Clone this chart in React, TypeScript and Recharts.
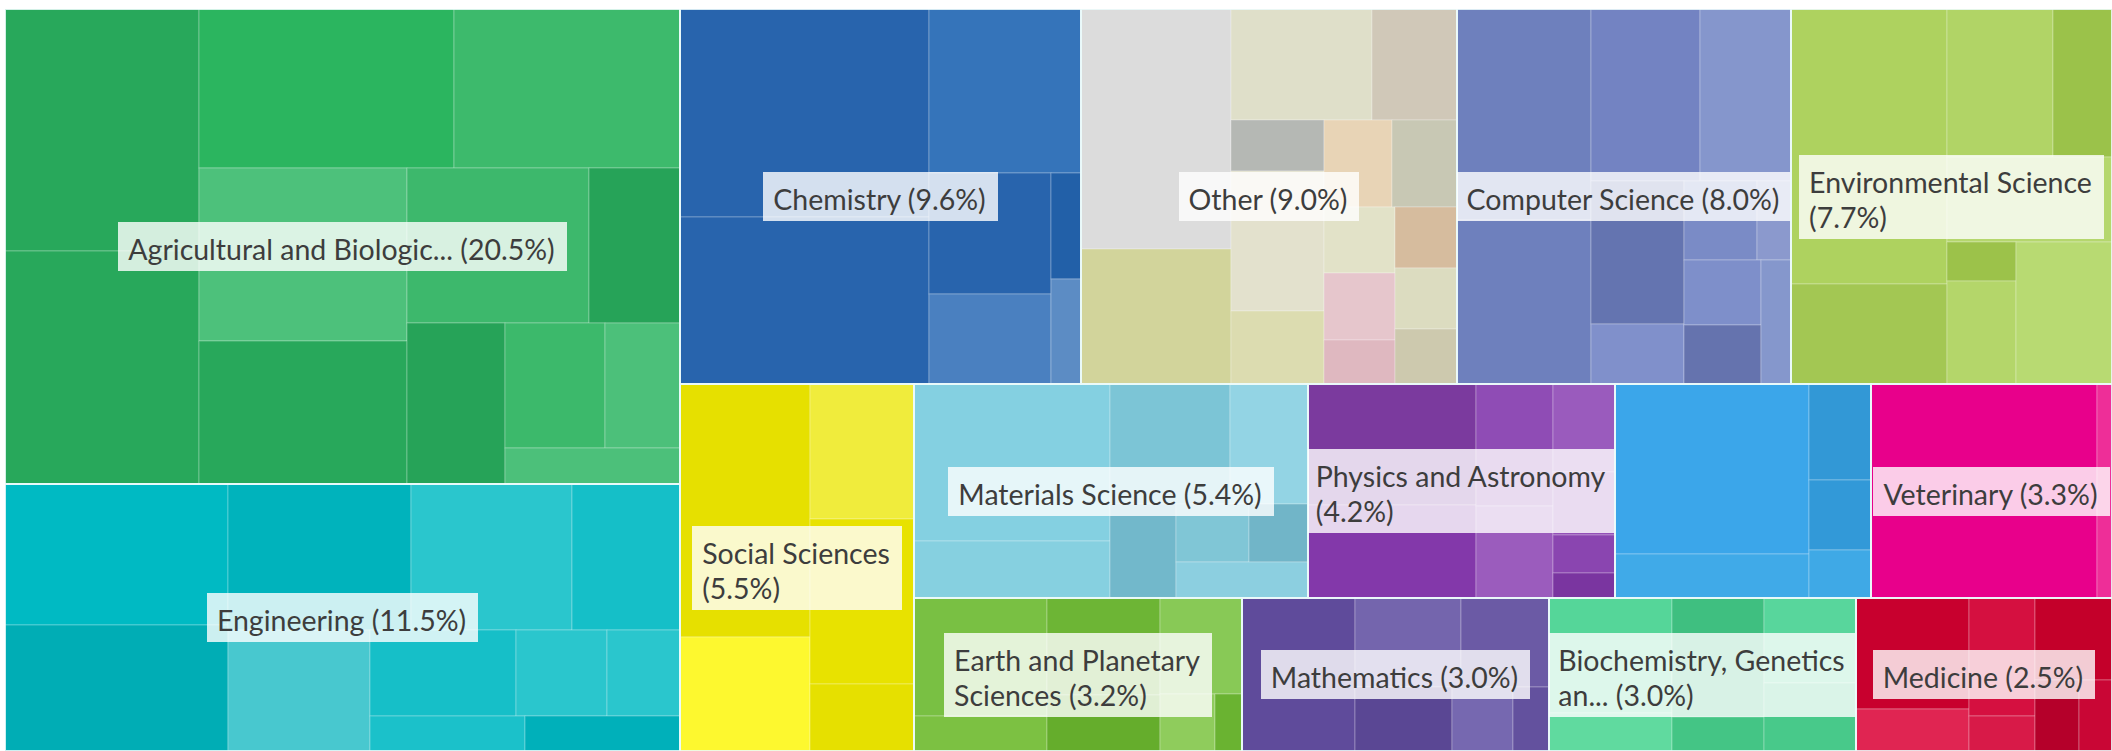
import React from "react";
import { Treemap } from "recharts";

// subject areas, share of publications (%)
const categories = [
  "Agricultural and Biological Sciences",
  "Engineering",
  "Chemistry",
  "Other",
  "Computer Science",
  "Environmental Science",
  "Social Sciences",
  "Materials Science",
  "Physics and Astronomy",
  "Immunology and Microbiology",
  "Veterinary",
  "Earth and Planetary Sciences",
  "Mathematics",
  "Biochemistry, Genetics and Molecular Biology",
  "Medicine",
];

const labelLines: string[][] = [
  ["Agricultural and Biologic... (20.5%)"],
  ["Engineering (11.5%)"],
  ["Chemistry (9.6%)"],
  ["Other (9.0%)"],
  ["Computer Science (8.0%)"],
  ["Environmental Science", "(7.7%)"],
  ["Social Sciences", "(5.5%)"],
  ["Materials Science (5.4%)"],
  ["Physics and Astronomy", "(4.2%)"],
  [],
  ["Veterinary (3.3%)"],
  ["Earth and Planetary", "Sciences (3.2%)"],
  ["Mathematics (3.0%)"],
  ["Biochemistry, Genetics", "an... (3.0%)"],
  ["Medicine (2.5%)"],
];

// sub-fields inside each subject area (%)
const agriParts = [3.0, 2.9, 2.6, 2.3, 2.3, 1.9, 1.8, 1.0, 0.9, 0.8, 0.6, 0.4];
const engParts = [2.0, 1.8, 1.7, 1.5, 1.1, 1.0, 0.8, 0.5, 0.4, 0.35, 0.35];
const chemParts = [3.3, 2.65, 1.6, 0.95, 0.7, 0.2, 0.2];
const otherParts = [2.3, 1.3, 1.0, 0.83, 0.6, 0.43, 0.38, 0.36, 0.3, 0.3, 0.3, 0.24, 0.24, 0.22, 0.2];
const csParts = [1.8, 1.4, 1.2, 1.0, 0.85, 0.37, 0.36, 0.32, 0.29, 0.24, 0.17];
const envParts = [2.75, 1.0, 1.0, 0.9, 0.87, 0.56, 0.45, 0.17];
const socialParts = [2.1, 1.1, 0.95, 0.9, 0.45];
const materialsParts = [1.96, 0.92, 0.72, 0.6, 0.4, 0.31, 0.27, 0.22];
const physicsParts = [1.3, 1.0, 0.6, 0.45, 0.35, 0.25, 0.15, 0.1];
const immunoParts = [2.1, 0.55, 0.38, 0.28, 0.19];
const vetParts = [3.1, 0.2];
const earthParts = [1.0, 0.7, 0.5, 0.4, 0.3, 0.2, 0.1];
const mathParts = [1.1, 0.6, 0.5, 0.4, 0.25, 0.15];
const biochemParts = [0.9, 0.7, 0.5, 0.4, 0.3, 0.2];
const medicineParts = [0.8, 0.5, 0.4, 0.3, 0.2, 0.15, 0.15];

const parts = [
  agriParts, engParts, chemParts, otherParts, csParts, envParts, socialParts, materialsParts,
  physicsParts, immunoParts, vetParts, earthParts, mathParts, biochemParts, medicineParts,
];

const shades = [
  ["#28a85b", "#28a85b", "#2bb55f", "#3dba6c", "#4dc17b", "#28a85b", "#3db86c", "#26a358", "#26a358", "#3cb96b", "#4cc07a", "#4cc07a"],
  ["#00bac3", "#00adb5", "#00b3bc", "#2ac6cd", "#48c8cf", "#15bfc8", "#16bfc8", "#2ac6cd", "#2ac6cd", "#1bc1ca", "#00b0ba"],
  ["#2864ad", "#2864ad", "#3574ba", "#2864ad", "#4a80c0", "#2260a8", "#5c8cc4"],
  ["#dcdcdc", "#d2d49b", "#dfdfc9", "#e3e1cd", "#d0c8b8", "#dcdcb0", "#e8d4b6", "#c8c8b4", "#b5b8b4", "#e2e2c8", "#e6c6cc", "#d6bc9e", "#dcdcc0", "#cdc9ae", "#dfb8c0"],
  ["#6e80bd", "#6e80bd", "#7383c2", "#8596cc", "#6474b0", "#7a8bc6", "#8090cb", "#7e8fca", "#6573ae", "#8597cc", "#8b99cd"],
  ["#aed25f", "#b1d466", "#a3c753", "#b5d76d", "#b8da72", "#9bc24a", "#b4d66a", "#9cc24a"],
  ["#e6e000", "#e8e200", "#fdf82f", "#f0ec3c", "#e6e000"],
  ["#84d0e1", "#7cc5d6", "#86d0e0", "#93d4e4", "#72b8cb", "#8ccfe0", "#80c6d6", "#71b5c8"],
  ["#7b3a9e", "#8338aa", "#8f4cb5", "#9b5cbd", "#9a5bbd", "#9450b8", "#8a45b0", "#7a35a0"],
  ["#3ba6ea", "#40aae8", "#3298d6", "#3299d8", "#3fa9e6"],
  ["#e8008b", "#ee2e98"],
  ["#79c043", "#6db535", "#88c956", "#65ad2c", "#7cc142", "#8fcc5c", "#6ab331"],
  ["#5f4b9b", "#7465ad", "#6b5aa5", "#5a4794", "#7668b0", "#63519e"],
  ["#55d699", "#3fbf80", "#58d69c", "#48c98a", "#60da9f", "#44c585"],
  ["#c8002e", "#d51040", "#c4002a", "#e02552", "#b5002a", "#d81a48", "#c90635"],
];

type Node = {
  name: string;
  value?: number;
  kind: "cat" | "sub" | "group" | "gap";
  idx?: number;
  shade?: string;
  children?: Node[];
};

// layout hints: S(a, b) -> a takes a strip across the short side, b the rest;
// K(...) -> all items in one row across the short side
type Spec = number | { s: [Spec, Spec] } | { k: Spec[] };
const S = (a: Spec, b: Spec): Spec => ({ s: [a, b] });
const K = (...items: Spec[]): Spec => ({ k: items });

const cellLayouts: Spec[] = [
  S(S(0, 1), K(S(2, 3), S(S(4, 5), S(S(6, 8), S(7, K(S(9, 10), 11)))))),
  S(S(0, 1), K(S(2, S(3, 5)), S(4, K(S(6, S(7, 8)), S(9, 10))))),
  S(S(0, 1), S(2, K(S(3, 4), S(5, 6)))),
  S(S(0, 1), S(S(2, 4), K(S(8, S(3, 5)), S(S(6, 7), K(S(9, S(10, 14)), S(11, S(12, 13))))))),
  K(S(0, 1), S(S(2, 3), K(S(4, 6), S(S(5, 10), K(S(7, 8), 9))))),
  K(S(0, 2), S(S(1, 5), S(3, S(S(7, 6), 4)))),
  K(S(0, 2), S(3, S(1, 4))),
  S(S(0, 2), S(S(1, 3), S(4, K(S(6, 7), 5)))),
  S(S(0, 1), K(S(2, 3), S(4, S(5, S(6, 7))))),
  S(S(0, 1), S(2, S(3, 4))),
  S(0, 1),
  S(S(0, 4), S(S(1, 3), S(2, S(5, 6)))),
  S(0, K(S(1, 2), S(3, S(4, 5)))),
  S(S(0, 4), S(S(1, 5), S(2, 3))),
  S(S(0, 3), K(S(1, 5), S(2, S(4, 6)))),
];

let uid = 0;
// zero-sized spacer: steers squarify so the blocks fall like the original layout
const gap = (): Node => ({ name: `gap-${uid++}`, value: 0, kind: "gap" });

const strip = (first: Node, rest: Node): Node => ({
  name: `group-${uid++}`,
  kind: "group",
  children: [first, gap(), rest],
});

const stack = (...nodes: Node[]): Node => ({
  name: `group-${uid++}`,
  kind: "group",
  children: [gap(), ...nodes],
});

const buildCells = (spec: Spec, i: number): Node => {
  if (typeof spec === "number") {
    return {
      name: `${categories[i]} #${spec + 1}`,
      value: parts[i][spec],
      kind: "sub",
      shade: shades[i][spec],
    };
  }
  if ("s" in spec) return strip(buildCells(spec.s[0], i), buildCells(spec.s[1], i));
  return stack(...spec.k.map((sp) => buildCells(sp, i)));
};

const cat = (i: number): Node => {
  const inner = buildCells(cellLayouts[i], i);
  return { name: categories[i], kind: "cat", idx: i, children: [inner] };
};

const leftBlock = strip(cat(0), cat(1));
const topRow = strip(cat(2), strip(cat(3), strip(cat(4), cat(5))));
const midRow = strip(cat(7), strip(cat(8), strip(cat(9), cat(10))));
const lowRow = strip(cat(11), strip(cat(12), strip(cat(13), cat(14))));
const rightBlock = stack(topRow, strip(cat(6), stack(midRow, lowRow)));

const treeData: Node[] = [leftBlock, gap(), rightBlock];

const W = 2107;
const H = 742;

const CellShape = (props: any) => {
  const { x, y, width, height, kind, shade } = props;
  if (kind !== "sub" || !width || !height) return null;
  return (
    <rect
      x={x}
      y={y}
      width={width}
      height={height}
      fill={shade}
      stroke="rgba(255,255,255,0.28)"
      strokeWidth={1}
    />
  );
};

const LabelShape = (props: any) => {
  const { x, y, width, height, kind, idx } = props;
  if (kind !== "cat" || !width || !height) return null;
  const lines = labelLines[idx] || [];
  return (
    <g>
      <rect
        x={x}
        y={y}
        width={width}
        height={height}
        fill="none"
        stroke="rgba(235,250,250,0.85)"
        strokeWidth={2}
      />
      {lines.length > 0 && (
        <foreignObject x={x} y={y} width={width} height={height}>
          <div
            style={{
              width,
              height,
              display: "flex",
              alignItems: "center",
              justifyContent: "center",
            }}
          >
            <div
              style={{
                background: "rgba(255,255,255,0.8)",
                padding: "10px 12px 4px 10px",
                fontFamily: "Lato, 'Open Sans', sans-serif",
                fontSize: 28.5,
                lineHeight: "35px",
                color: "#3d3d3d",
                whiteSpace: "nowrap",
                textAlign: "left",
              }}
            >
              {lines.map((l, k) => (
                <div key={k}>{l}</div>
              ))}
            </div>
          </div>
        </foreignObject>
      )}
    </g>
  );
};

const App = () => {
  return (
    <div style={{ position: "absolute", left: 5, top: 9, width: W, height: H }}>
      <div style={{ position: "absolute", left: 0, top: 0 }}>
        <Treemap
          width={W}
          height={H}
          data={treeData}
          dataKey="value"
          aspectRatio={1}
          isAnimationActive={false}
          content={<CellShape />}
        />
      </div>
      <div style={{ position: "absolute", left: 0, top: 0 }}>
        <Treemap
          width={W}
          height={H}
          data={treeData}
          dataKey="value"
          aspectRatio={1}
          isAnimationActive={false}
          content={<LabelShape />}
        />
      </div>
    </div>
  );
};

export default App;
